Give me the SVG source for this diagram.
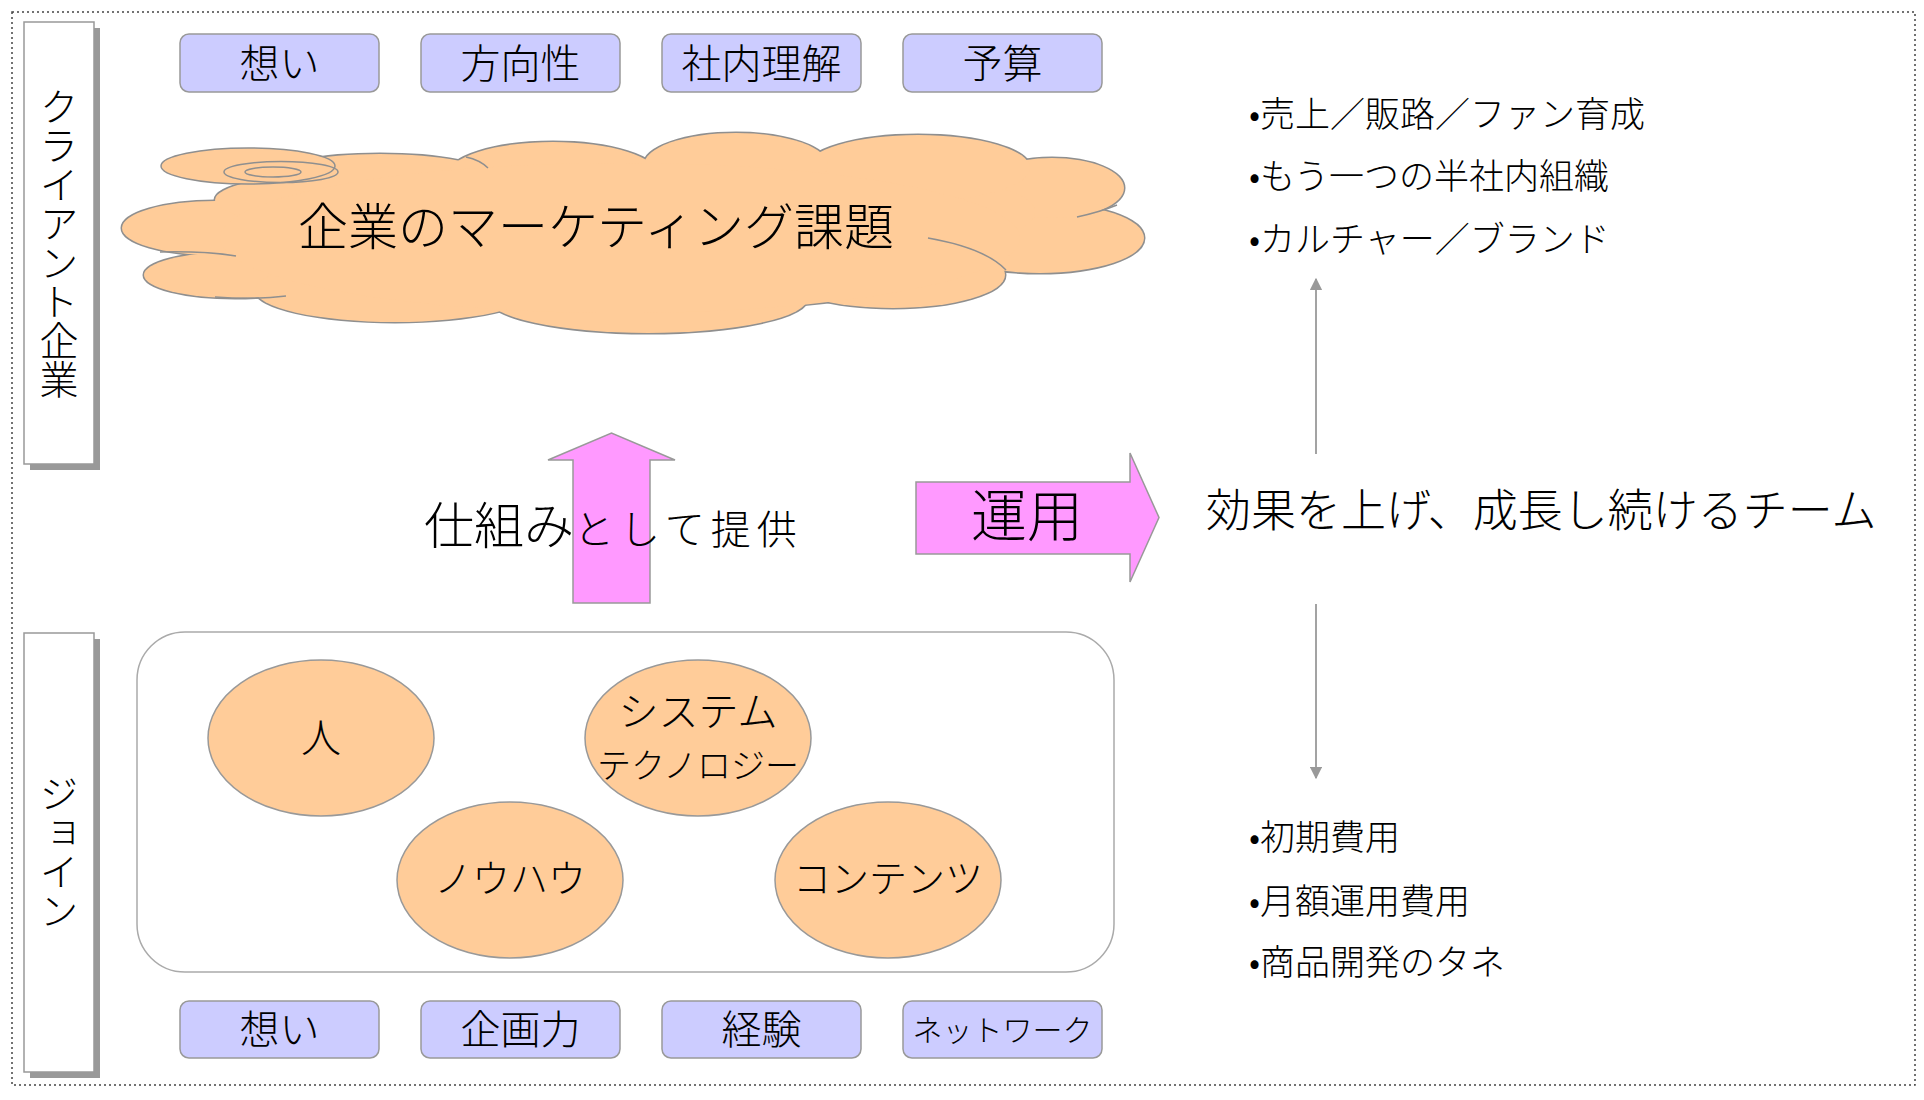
<svg xmlns="http://www.w3.org/2000/svg" width="1924" height="1100" viewBox="0 0 1924 1100">
<defs>
<style>
text{font-family:"Noto Sans CJK JP","Noto Sans",sans-serif;font-weight:300;fill:#000;}
.frame{fill:none;stroke:#444;stroke-width:1.5;stroke-dasharray:2 3;}
.lbl{fill:#fff;stroke:#999;stroke-width:1.5;}
.lblsh{fill:#999;}
.tag{fill:#CCCCFF;stroke:#999;stroke-width:1.5;}
.tagt{font-size:40px;text-anchor:middle;}
.vt{font-size:39px;writing-mode:vertical-rl;text-anchor:middle;}
.peach{fill:#FFCC99;stroke:#999;stroke-width:1.5;}
.cl{fill:#FFCC99;stroke:#8f8f8f;stroke-width:3;}
.clf{fill:#FFCC99;stroke:none;}
.cll{fill:none;stroke:#8f8f8f;stroke-width:1.5;}
.pink{fill:#FF99FF;stroke:#999;stroke-width:1.5;}
.conn{stroke:#999;stroke-width:1.8;fill:none;}
.bul{font-size:35px;}
.et{font-size:40px;text-anchor:middle;}
</style>
<marker id="ah" viewBox="0 0 10 10" refX="9" refY="5" markerWidth="7" markerHeight="7" orient="auto" markerUnits="strokeWidth">
<path d="M0 0 L10 5 L0 10 Z" fill="#999"/>
</marker>
<g id="lobes">
<ellipse cx="215" cy="228" rx="93" ry="27"/>
<ellipse cx="235" cy="275" rx="91" ry="23"/>
<ellipse cx="330" cy="200" rx="115" ry="25"/>
<ellipse cx="380" cy="176" rx="110" ry="22"/>
<ellipse cx="395" cy="290" rx="140" ry="32"/>
<ellipse cx="648" cy="298" rx="160" ry="35"/>
<ellipse cx="893" cy="275" rx="112" ry="33"/>
<ellipse cx="1040" cy="238" rx="104" ry="35"/>
<ellipse cx="1052" cy="188" rx="72" ry="30"/>
<ellipse cx="960" cy="212" rx="75" ry="28"/>
<ellipse cx="918" cy="168" rx="112" ry="33"/>
<ellipse cx="736" cy="165" rx="92" ry="32"/>
<ellipse cx="553" cy="175" rx="105" ry="33"/>
<ellipse cx="620" cy="238" rx="400" ry="75"/>
</g>
</defs>
<rect width="1924" height="1100" fill="#fff"/>
<rect class="frame" x="12" y="12" width="1903" height="1073"/>

<g id="label-client">
<rect class="lblsh" x="30" y="28" width="70" height="442"/>
<rect class="lbl" x="24" y="22" width="70" height="442"/>
<text class="vt" x="59" y="243">クライアント企業</text>
</g>
<g id="label-join">
<rect class="lblsh" x="30" y="639" width="70" height="439"/>
<rect class="lbl" x="24" y="633" width="70" height="439"/>
<text class="vt" x="59" y="852">ジョイン</text>
</g>

<g id="tag-omoi-top"><rect class="tag" x="180" y="34" width="199" height="58" rx="9"/><text class="tagt" x="279.5" y="78">想い</text></g>
<g id="tag-houkousei"><rect class="tag" x="421" y="34" width="199" height="58" rx="9"/><text class="tagt" x="520.5" y="78">方向性</text></g>
<g id="tag-shanairikai"><rect class="tag" x="662" y="34" width="199" height="58" rx="9"/><text class="tagt" x="761.5" y="78">社内理解</text></g>
<g id="tag-yosan"><rect class="tag" x="903" y="34" width="199" height="58" rx="9"/><text class="tagt" x="1002.5" y="78">予算</text></g>

<g id="cloud">
<use href="#lobes" class="cl"/>
<use href="#lobes" class="clf"/>
<ellipse cx="248" cy="166" rx="87" ry="18" fill="#FFCC99" stroke="#8f8f8f" stroke-width="1.5"/>
<ellipse class="cll" cx="281" cy="172" rx="57" ry="10.5"/>
<ellipse class="cll" cx="273" cy="172" rx="28" ry="5"/>
<path class="cll" d="M466 157 Q480 160 488 168"/>
<path class="cll" d="M160 252 Q205 251 236 256"/>
<path class="cll" d="M215 297 Q255 300 286 296"/>
<path class="cll" d="M928 238 Q985 248 1006 270"/>
<path class="cll" d="M1077 217 Q1100 212 1117 205"/>
<text x="298" y="245" style="font-size:50px">企業のマーケティング課題</text>
</g>

<g id="arrow-up-provide">
<polygon class="pink" points="573,603 573,460 548,460 611.5,433 675,460 650,460 650,603"/>
<text x="424" y="544"><tspan style="font-size:50px">仕組み</tspan><tspan style="font-size:40px" letter-spacing="6">として提供</tspan></text>
</g>

<g id="arrow-unyou">
<polygon class="pink" points="916,482 1130,482 1130,453 1159,517.5 1130,582 1130,554 916,554"/>
<text x="1027" y="536" style="font-size:56px;text-anchor:middle">運用</text>
</g>

<g id="team">
<text x="1206" y="527" style="font-size:45px">効果を上げ、成長し続けるチーム</text>
</g>

<g id="effects">
<text class="bul" x="1249" y="127">•売上／販路／ファン育成</text>
<text class="bul" x="1249" y="189">•もう一つの半社内組織</text>
<text class="bul" x="1249" y="252">•カルチャー／ブランド</text>
</g>

<g id="costs">
<text class="bul" x="1249" y="850">•初期費用</text>
<text class="bul" x="1249" y="914">•月額運用費用</text>
<text class="bul" x="1249" y="975">•商品開発のタネ</text>
</g>

<g id="connectors">
<line class="conn" x1="1316" y1="454" x2="1316" y2="279" marker-end="url(#ah)"/>
<line class="conn" x1="1316" y1="604" x2="1316" y2="778" marker-end="url(#ah)"/>
</g>

<g id="join-container">
<rect x="137" y="632" width="977" height="340" rx="48" fill="#fff" stroke="#aaa" stroke-width="1.5"/>
</g>
<g id="node-hito"><ellipse class="peach" cx="321" cy="738" rx="113" ry="78"/><text class="et" x="321" y="752">人</text></g>
<g id="node-system"><ellipse class="peach" cx="698" cy="738" rx="113" ry="78"/><text class="et" x="698" y="726">システム</text><text class="et" x="698" y="778" style="font-size:34px">テクノロジー</text></g>
<g id="node-knowhow"><ellipse class="peach" cx="510" cy="880" rx="113" ry="78"/><text class="et" x="510" y="892" style="font-size:38px">ノウハウ</text></g>
<g id="node-contents"><ellipse class="peach" cx="888" cy="880" rx="113" ry="78"/><text class="et" x="888" y="892" style="font-size:38px">コンテンツ</text></g>

<g id="tag-omoi-bottom"><rect class="tag" x="180" y="1001" width="199" height="57" rx="9"/><text class="tagt" x="279.5" y="1044">想い</text></g>
<g id="tag-kikakuryoku"><rect class="tag" x="421" y="1001" width="199" height="57" rx="9"/><text class="tagt" x="520.5" y="1044">企画力</text></g>
<g id="tag-keiken"><rect class="tag" x="662" y="1001" width="199" height="57" rx="9"/><text class="tagt" x="761.5" y="1044">経験</text></g>
<g id="tag-network"><rect class="tag" x="903" y="1001" width="199" height="57" rx="9"/><text class="tagt" x="1002.5" y="1041" style="font-size:30px">ネットワーク</text></g>
</svg>
